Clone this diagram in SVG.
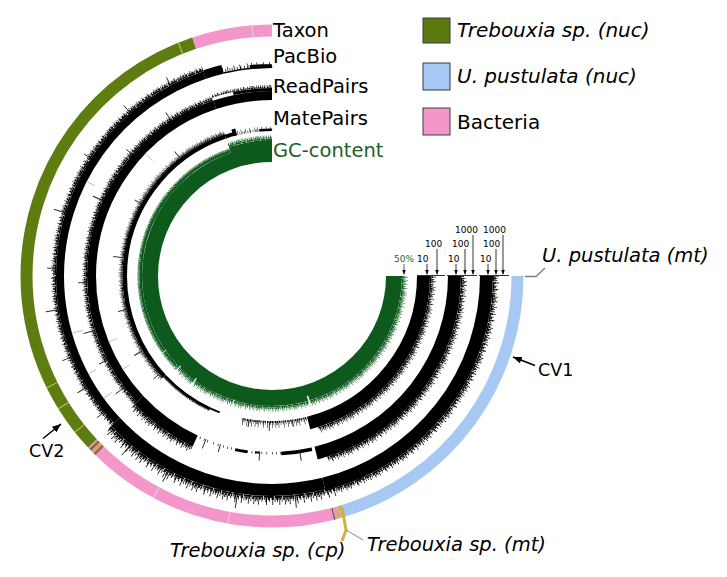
<svg xmlns="http://www.w3.org/2000/svg" width="727" height="577" viewBox="0 0 727 577">
<style>
text{font-family:"DejaVu Sans",Verdana,sans-serif;fill:#000}
.lab{font-size:19.5px}
.leg{font-size:20px}
.it{font-style:italic}
.sc{font-size:9px}
.cv{font-size:17.5px}
circle{fill:none}
.k circle{stroke:#000}
.g circle{stroke:#0e5a1d}
.L1{stroke-dasharray:1 .2 2 .2 2.6 .2 1.8 0}
.L2{stroke-dasharray:.2 .2 .6 .2 .2 .2 .4 .2 .6 .2 .2 .2 .6 .4 .6 .2 .4 .2 .2 .2 .4 .2 .6 .2 .4 0}
.L3{stroke-dasharray:.2 .2 .2 .6 .2 .4 .2 .4 .2 .4 .2 .4 .2 .6 .2 .6 .4 .8 .2 .6 .2 .2 .2 .2}
.L4{stroke-dasharray:0 .4 .2 1.2 .2 1.6 .2 1.4 .2 1.8 .2 .6}
.spk line{stroke:#222;stroke-width:.9}
.spk2 line{stroke:#b5b5b5;stroke-width:.8}
.notch line{stroke:#fff}
.ax{stroke:#000;stroke-width:.8;fill:none}
</style>
<defs>
<clipPath id="wA"><polygon points="0,0 0,-330 -104.7,-312.9"/></clipPath>
<clipPath id="wB"><polygon points="0,0 -104.7,-312.9 -233.3,-233.3 -330,0 -241.4,225.1"/></clipPath>
<clipPath id="wC"><polygon points="0,0 -241.4,225.1 -139.5,299.1 0,330 96.5,315.6"/></clipPath>
<clipPath id="wD"><polygon points="0,0 96.5,315.6 233.3,233.3 330,0"/></clipPath>
<clipPath id="wC1"><polygon points="0,0 -241.4,225.1 -139.5,299.1"/></clipPath>
<clipPath id="wC2"><polygon points="0,0 -68.6,322.8 0,330 79.8,320.2"/></clipPath>
<clipPath id="wC3"><polygon points="0,0 -139.5,299.1 0,330 79.8,320.2"/></clipPath>
<clipPath id="wCD"><polygon points="0,0 -241.4,225.1 -139.5,299.1 0,330 96.5,315.6 233.3,233.3 330,0"/></clipPath>
<marker id="ah" viewBox="0 0 10 8" refX="10" refY="4" markerWidth="5" markerHeight="4" markerUnits="userSpaceOnUse" orient="auto"><path d="M0,0L10,4L0,8z" fill="#000"/></marker>
<marker id="ah2" viewBox="0 0 10 8" refX="10" refY="4" markerWidth="9" markerHeight="7" markerUnits="userSpaceOnUse" orient="auto"><path d="M0,0L10,4L0,8z" fill="#000"/></marker>
</defs>
<rect width="727" height="577" fill="#fff"/>

<g id="rings" transform="translate(272 276)">
 <g id="gc" class="g">
  <circle r="122" stroke-width="16" pathLength="360" stroke-dasharray="270 360"/>
  <circle r="131.25" stroke-width="2.5" pathLength="360" stroke-dasharray="114.5 360" stroke-dashoffset="-137"/>
  <circle r="132.5" stroke-width="7" pathLength="360" stroke-dasharray="18.5 360" stroke-dashoffset="-251.5"/>
  <circle r="130.75" stroke-width="1.5" pathLength="360" class="L1" clip-path="url(#wCD)"/>
  <circle r="132.25" stroke-width="1.5" pathLength="360" class="L2" clip-path="url(#wCD)"/>
  <circle r="133.75" stroke-width="1.5" pathLength="360" class="L3" clip-path="url(#wCD)"/>
  <circle r="135.25" stroke-width="1.5" pathLength="360" class="L4" clip-path="url(#wCD)"/>
  <circle r="133" stroke-width="1" pathLength="360" class="L1" clip-path="url(#wB)"/>
  <circle r="134" stroke-width="1" pathLength="360" class="L2" clip-path="url(#wB)"/>
  <circle r="136.75" stroke-width="1.5" pathLength="360" class="L1" clip-path="url(#wA)"/>
  <circle r="138.25" stroke-width="1.5" pathLength="360" class="L2" clip-path="url(#wA)"/>
  <circle r="139.75" stroke-width="1.5" pathLength="360" class="L3" clip-path="url(#wA)"/>
 </g>
 <g class="notch">
  <line y1="-125" y2="-140" stroke-width="1.6" transform="rotate(-196.5)"/>
  <line y1="-127" y2="-140" stroke-width="1" transform="rotate(-143.5)"/>
  <line y1="-128" y2="-140" stroke-width="1" transform="rotate(-134.6)"/>
  <line y1="-129" y2="-140" stroke-width=".8" transform="rotate(-125)"/>
  <line y1="-129" y2="-140" stroke-width=".8" transform="rotate(-163)"/>
 </g>
 <g id="matepairs" class="k">
  <circle r="151.5" stroke-width="13" pathLength="360" stroke-dasharray="76 360"/>
  <circle r="158.75" stroke-width="1.5" pathLength="360" class="L1" stroke-dashoffset="3.3" clip-path="url(#wD)"/>
  <circle r="160.25" stroke-width="1.5" pathLength="360" class="L2" stroke-dashoffset="3.3" clip-path="url(#wD)"/>
  <circle r="161.75" stroke-width="1.5" pathLength="360" class="L3" stroke-dashoffset="3.3" clip-path="url(#wD)"/>
  <circle r="163.25" stroke-width="1.5" pathLength="360" class="L4" stroke-dashoffset="3.3" clip-path="url(#wD)"/>
  <circle r="146" stroke-width="2" pathLength="360" class="L2" clip-path="url(#wC2)"/>
  <circle r="148" stroke-width="2" pathLength="360" class="L3" clip-path="url(#wC2)"/>
  <circle r="150.5" stroke-width="3" pathLength="360" class="L4" clip-path="url(#wC2)"/>
  <circle r="146.5" stroke-width="3" pathLength="360" stroke-dasharray="22 360" stroke-dashoffset="-115"/>
  <circle r="146" stroke-width="2" pathLength="360" stroke-dasharray="4 360" stroke-dashoffset="-111"/>
  <circle r="148.5" stroke-width="1" pathLength="360" class="L2" clip-path="url(#wC1)"/>
  <circle r="147.25" stroke-width="4.5" pathLength="360" stroke-dasharray="114.5 360" stroke-dashoffset="-137"/>
  <circle r="150" stroke-width="1" pathLength="360" class="L1" stroke-dashoffset="3.3" clip-path="url(#wB)"/>
  <circle r="151" stroke-width="1" pathLength="360" class="L2" stroke-dashoffset="3.3" clip-path="url(#wB)"/>
  <circle r="152" stroke-width="1" pathLength="360" class="L3" stroke-dashoffset="3.3" clip-path="url(#wB)"/>
  <circle r="153" stroke-width="1" pathLength="360" class="L4" stroke-dashoffset="3.3" clip-path="url(#wB)"/>
  <circle r="147" stroke-width="4" pathLength="360" stroke-dasharray="4 360" stroke-dashoffset="-251.5"/>
  <circle r="148.5" stroke-width="7" pathLength="360" stroke-dasharray="1.5 360" stroke-dashoffset="-254.5"/>
  <circle r="146.25" stroke-width="2.5" pathLength="360" class="L3" clip-path="url(#wA)"/>
  <circle r="148.5" stroke-width="2" pathLength="360" class="L4" clip-path="url(#wA)"/>
  <circle r="146.25" stroke-width="2.5" pathLength="360" stroke-dasharray="5 360" stroke-dashoffset="-265"/>
 </g>
 <g id="readpairs" class="k">
  <circle r="182.5" stroke-width="13" pathLength="360" stroke-dasharray="76 360"/>
  <circle r="189.75" stroke-width="1.5" pathLength="360" class="L1" stroke-dashoffset="5.7" clip-path="url(#wD)"/>
  <circle r="191.25" stroke-width="1.5" pathLength="360" class="L2" stroke-dashoffset="5.7" clip-path="url(#wD)"/>
  <circle r="192.75" stroke-width="1.5" pathLength="360" class="L3" stroke-dashoffset="5.7" clip-path="url(#wD)"/>
  <circle r="194.25" stroke-width="1.5" pathLength="360" class="L4" stroke-dashoffset="5.7" clip-path="url(#wD)"/>
  <circle r="177.75" stroke-width="3.5" pathLength="360" stroke-dasharray="10 360" stroke-dashoffset="-77"/>
  <circle r="177.5" stroke-width="3" pathLength="360" stroke-dasharray="4 360" stroke-dashoffset="-98"/>
  <circle r="177" stroke-width="2" pathLength="360" stroke-dasharray="1.5 360" stroke-dashoffset="-94"/>
  <circle r="177.25" stroke-width="2.5" pathLength="360" class="L4" clip-path="url(#wC3)"/>
  <circle r="182" stroke-width="12" pathLength="360" stroke-dasharray="22 360" stroke-dashoffset="-115"/>
  <circle r="188.75" stroke-width="1.5" pathLength="360" class="L1" stroke-dashoffset="5.7" clip-path="url(#wC1)"/>
  <circle r="190.25" stroke-width="1.5" pathLength="360" class="L2" stroke-dashoffset="5.7" clip-path="url(#wC1)"/>
  <circle r="191.75" stroke-width="1.5" pathLength="360" class="L3" stroke-dashoffset="5.7" clip-path="url(#wC1)"/>
  <circle r="193.5" stroke-width="2" pathLength="360" class="L4" stroke-dashoffset="5.7" clip-path="url(#wC1)"/>
  <circle r="180.5" stroke-width="9" pathLength="360" stroke-dasharray="114.5 360" stroke-dashoffset="-137"/>
  <circle r="185.75" stroke-width="1.5" pathLength="360" class="L1" stroke-dashoffset="5.7" clip-path="url(#wB)"/>
  <circle r="187.25" stroke-width="1.5" pathLength="360" class="L2" stroke-dashoffset="5.7" clip-path="url(#wB)"/>
  <circle r="188.5" stroke-width="1" pathLength="360" class="L3" stroke-dashoffset="5.7" clip-path="url(#wB)"/>
  <circle r="189.5" stroke-width="1" pathLength="360" class="L4" stroke-dashoffset="5.7" clip-path="url(#wB)"/>
  <circle r="180.5" stroke-width="9" pathLength="360" stroke-dasharray="18.5 360" stroke-dashoffset="-251.5"/>
  <circle r="186.5" stroke-width="3" pathLength="360" stroke-dasharray="12 360" stroke-dashoffset="-258"/>
  <circle r="188.75" stroke-width="1.5" pathLength="360" class="L2" clip-path="url(#wA)"/>
  <circle r="190.25" stroke-width="1.5" pathLength="360" class="L3" clip-path="url(#wA)"/>
 </g>
 <g id="pacbio" class="k">
  <circle r="214.5" stroke-width="13" pathLength="360" stroke-dasharray="76 360"/>
  <circle r="221.75" stroke-width="1.5" pathLength="360" class="L1" stroke-dashoffset="1.9" clip-path="url(#wD)"/>
  <circle r="223.25" stroke-width="1.5" pathLength="360" class="L2" stroke-dashoffset="1.9" clip-path="url(#wD)"/>
  <circle r="224.75" stroke-width="1.5" pathLength="360" class="L3" stroke-dashoffset="1.9" clip-path="url(#wD)"/>
  <circle r="226.25" stroke-width="1.5" pathLength="360" class="L4" stroke-dashoffset="1.9" clip-path="url(#wD)"/>
  <circle r="214" stroke-width="12" pathLength="360" stroke-dasharray="61 360" stroke-dashoffset="-76"/>
  <circle r="221" stroke-width="2" pathLength="360" class="L1" stroke-dashoffset="1.9" clip-path="url(#wC)"/>
  <circle r="223" stroke-width="2" pathLength="360" class="L2" stroke-dashoffset="1.9" clip-path="url(#wC)"/>
  <circle r="225" stroke-width="2" pathLength="360" class="L3" stroke-dashoffset="1.9" clip-path="url(#wC)"/>
  <circle r="227.5" stroke-width="3" pathLength="360" class="L4" stroke-dashoffset="1.9" clip-path="url(#wC)"/>
  <circle r="212" stroke-width="8" pathLength="360" stroke-dasharray="114.5 360" stroke-dashoffset="-137"/>
  <circle r="216.75" stroke-width="1.5" pathLength="360" class="L1" stroke-dashoffset="1.9" clip-path="url(#wB)"/>
  <circle r="218.25" stroke-width="1.5" pathLength="360" class="L2" stroke-dashoffset="1.9" clip-path="url(#wB)"/>
  <circle r="219.5" stroke-width="1" pathLength="360" class="L3" stroke-dashoffset="1.9" clip-path="url(#wB)"/>
  <circle r="220.5" stroke-width="1" pathLength="360" class="L4" stroke-dashoffset="1.9" clip-path="url(#wB)"/>
  <circle r="212.5" stroke-width="9" pathLength="360" stroke-dasharray="5 360" stroke-dashoffset="-251.5"/>
  <circle r="208.75" stroke-width="1.5" pathLength="360" stroke-dasharray="13.5 360" stroke-dashoffset="-256.5"/>
  <circle r="210" stroke-width="4" pathLength="360" stroke-dasharray="6 360" stroke-dashoffset="-264"/>
  <circle r="210.75" stroke-width="2.5" pathLength="360" class="L3" clip-path="url(#wA)"/>
  <circle r="213" stroke-width="2" pathLength="360" class="L4" clip-path="url(#wA)"/>
 </g>
 <g class="spk">
  <line y1="-216" y2="-225" transform="rotate(-28)"/>
  <line y1="-216" y2="-226" transform="rotate(-41)"/>
  <line y1="-216" y2="-224" transform="rotate(-57)"/>
  <line y1="-216" y2="-228" transform="rotate(-73)"/>
  <line y1="-216" y2="-225" transform="rotate(-88)"/>
  <line y1="-216" y2="-229" transform="rotate(-99)"/>
  <line y1="-216" y2="-226" transform="rotate(-112)"/>
  <line y1="-216" y2="-227" transform="rotate(-121)"/>
  <line y1="-216" y2="-225" transform="rotate(-129)"/>
  <line y1="-220" y2="-234" transform="rotate(-140)"/>
  <line y1="-221" y2="-233" transform="rotate(-152)"/>
  <line y1="-221" y2="-235" transform="rotate(-171)"/>
  <line y1="-220" y2="-233" transform="rotate(-186)"/>
  <line y1="-185" y2="-195" transform="rotate(-33)"/>
  <line y1="-185" y2="-193" transform="rotate(-49)"/>
  <line y1="-185" y2="-196" transform="rotate(-66)"/>
  <line y1="-185" y2="-194" transform="rotate(-92)"/>
  <line y1="-185" y2="-197" transform="rotate(-107)"/>
  <line y1="-185" y2="-194" transform="rotate(-117)"/>
  <line y1="-185" y2="-196" transform="rotate(-127)"/>
  <line y1="-176" y2="-186" transform="rotate(-158)"/>
  <line y1="-176" y2="-184" transform="rotate(-163)"/>
  <line y1="-176" y2="-185" transform="rotate(-176)"/>
  <line y1="-176" y2="-187" transform="rotate(-189)"/>
  <line y1="-150" y2="-158" transform="rotate(-38)"/>
  <line y1="-150" y2="-157" transform="rotate(-61)"/>
  <line y1="-150" y2="-160" transform="rotate(-83)"/>
  <line y1="-150" y2="-158" transform="rotate(-103)"/>
  <line y1="-150" y2="-159" transform="rotate(-120)"/>
  <line y1="-150" y2="-157" transform="rotate(-131)"/>
  <line y1="-146" y2="-153" transform="rotate(-171)"/>
  <line y1="-146" y2="-155" transform="rotate(-179)"/>
  <line y1="-146" y2="-152" transform="rotate(-188)"/>
 </g>
 <g class="spk2">
  <line y1="-208" y2="-197" transform="rotate(-106)"/>
  <line y1="-208" y2="-199" transform="rotate(-118)"/>
  <line y1="-208" y2="-198" transform="rotate(-126)"/>
  <line y1="-176" y2="-167" transform="rotate(-112)"/>
  <line y1="-176" y2="-168" transform="rotate(-122)"/>
  <line y1="-176" y2="-166" transform="rotate(-46)"/>
  <line y1="-208" y2="-199" transform="rotate(-63)"/>
 </g>
 <g id="taxon">
  <circle r="245.5" stroke-width="12" pathLength="360" stroke="#a6c8f2" stroke-dasharray="73.2 360"/>
  <circle r="245.5" stroke-width="12" pathLength="360" stroke="#b9a044" stroke-dasharray="0.6 360" stroke-dashoffset="-73.2"/>
  <circle r="245.5" stroke-width="12" pathLength="360" stroke="#dba88e" stroke-dasharray="1.6 360" stroke-dashoffset="-73.8"/>
  <circle r="245.5" stroke-width="12" pathLength="360" stroke="#f397cb" stroke-dasharray="61.6 360" stroke-dashoffset="-75.4"/>
  <circle r="245.5" stroke-width="12" pathLength="360" stroke="#5a4a55" stroke-dasharray="0.25 360" stroke-dashoffset="-75.4"/>
  <circle r="245.5" stroke-width="12" pathLength="360" stroke="#8b6b3a" stroke-dasharray="0.6 360" stroke-dashoffset="-134.6"/>
  <circle r="245.5" stroke-width="12" pathLength="360" stroke="#d4a27c" stroke-dasharray="0.8 360" stroke-dashoffset="-135.2"/>
  <circle r="245.5" stroke-width="12" pathLength="360" stroke="#8b6b3a" stroke-dasharray="0.6 360" stroke-dashoffset="-136"/>
  <circle r="245.5" stroke-width="12" pathLength="360" stroke="#5e7c10" stroke-dasharray="114.5 360" stroke-dashoffset="-137"/>
  <circle r="245.5" stroke-width="12" pathLength="360" stroke="#f397cb" stroke-dasharray="18.5 360" stroke-dashoffset="-251.5"/>
  <circle r="245.5" stroke-width="12" pathLength="360" stroke="#b9c866" stroke-dasharray="0.25 6.25 0.25 5.25 0.25 360" stroke-dashoffset="-141.5"/>
  <circle r="245.5" stroke-width="12" pathLength="360" stroke="#b9c866" stroke-dasharray="0.25 360" stroke-dashoffset="-248"/>
  <circle r="245.5" stroke-width="12" pathLength="360" stroke="#fac6e2" stroke-dasharray="0.25 360" stroke-dashoffset="-265.3"/>
  <circle r="245.5" stroke-width="12" pathLength="360" stroke="#fac6e2" stroke-dasharray="0.25 17.75 0.25 360" stroke-dashoffset="-100"/>
 </g>
</g>

<g id="pointers" fill="none">
 <path d="M342 507L346 530L342 541" stroke="#d4b040" stroke-width="3"/>
 <path d="M346 530L363 540" stroke="#6c9a70" stroke-width="1"/>
 <path d="M525 276.5H536L545 268" stroke="#8e6f96" stroke-width="1.3"/>
 <line x1="535" y1="365.5" x2="513" y2="357" stroke="#000" stroke-width="1.6" marker-end="url(#ah2)"/>
 <line x1="43" y1="438.5" x2="61" y2="424" stroke="#000" stroke-width="1.6" marker-end="url(#ah2)"/>
</g>

<g id="scale">
 <path class="ax" d="M417 275.5H445M447 275.5H477M479 275.5H509"/>
 <g stroke="#000" stroke-width=".8" marker-end="url(#ah)">
  <line x1="404" y1="264" x2="404" y2="274.5" stroke="#333"/>
  <line x1="427" y1="264" x2="427" y2="274.5"/>
  <line x1="437" y1="249" x2="437" y2="274.5"/>
  <line x1="456" y1="264" x2="456" y2="274.5"/>
  <line x1="465" y1="249" x2="465" y2="274.5"/>
  <line x1="473" y1="235" x2="473" y2="274.5"/>
  <line x1="488" y1="264" x2="488" y2="274.5"/>
  <line x1="496" y1="249" x2="496" y2="274.5"/>
  <line x1="503" y1="235" x2="503" y2="274.5"/>
 </g>
 <text class="sc" x="394" y="262" style="fill:#1c6a2a">50%</text>
 <text class="sc" x="417" y="262">10</text>
 <text class="sc" x="425" y="247">100</text>
 <text class="sc" x="448" y="262">10</text>
 <text class="sc" x="452" y="247">100</text>
 <text class="sc" x="455" y="233">1000</text>
 <text class="sc" x="480" y="262">10</text>
 <text class="sc" x="483" y="247">100</text>
 <text class="sc" x="483" y="233">1000</text>
</g>

<g id="track-labels">
 <text class="lab" x="273" y="37">Taxon</text>
 <text class="lab" x="273" y="63">PacBio</text>
 <text class="lab" x="273" y="93">ReadPairs</text>
 <text class="lab" x="273" y="125">MatePairs</text>
 <text class="lab" x="273" y="157" style="fill:#1f5f22">GC-content</text>
</g>

<g id="legend">
 <rect x="423" y="18" width="27" height="25" fill="#5b7a10" stroke="#3c3c3c"/>
 <rect x="423" y="63" width="27" height="27" fill="#a6c8f2" stroke="#3c3c3c"/>
 <rect x="423" y="108" width="27" height="27" fill="#f397cb" stroke="#3c3c3c"/>
 <text class="leg it" x="457" y="37">Trebouxia sp. (nuc)</text>
 <text class="leg it" x="457" y="83">U. pustulata (nuc)</text>
 <text class="leg" x="457" y="129">Bacteria</text>
</g>

<g id="annotations">
 <text class="lab it" x="542" y="262">U. pustulata (mt)</text>
 <text class="lab it" x="170" y="557">Trebouxia sp. (cp)</text>
 <text class="lab it" x="367" y="551">Trebouxia sp. (mt)</text>
 <text class="cv" x="538" y="376">CV1</text>
 <text class="cv" x="29" y="457">CV2</text>
</g>
</svg>
